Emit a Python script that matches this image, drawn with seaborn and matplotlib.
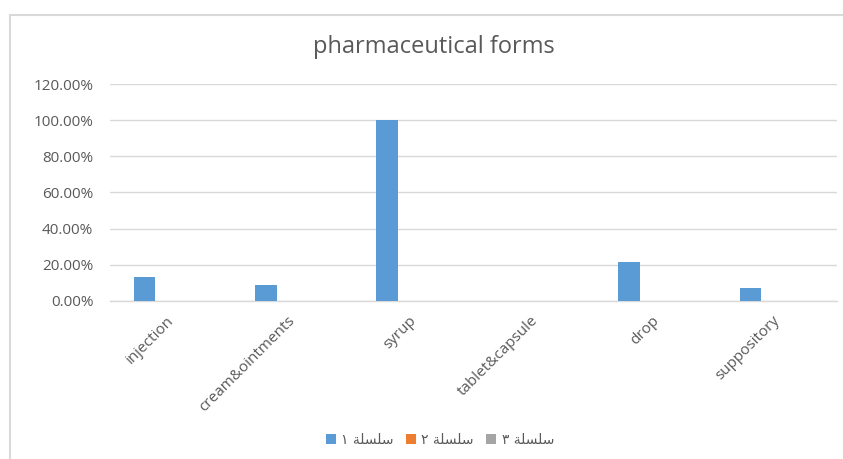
import matplotlib
matplotlib.use("Agg")
import matplotlib.pyplot as plt
import matplotlib.transforms as mtransforms
import seaborn as sns
import pandas as pd
from matplotlib.lines import Line2D
from matplotlib.ticker import FuncFormatter

categories = ["injection", "cream&ointments", "syrup", "tablet&capsule", "drop", "suppository"]
series1 = [0.132, 0.085, 1.00, 0.0, 0.215, 0.070]
series2 = [0, 0, 0, 0, 0, 0]
series3 = [0, 0, 0, 0, 0, 0]
# Arabic series names in visual (shaped) order: "سلسلة ١", "سلسلة ٢", "سلسلة ٣"
word = "\uFE94\uFEE0\uFEB4\uFEE0\uFEB3"
series_names = ["\u0661 " + word, "\u0662 " + word, "\u0663 " + word]
colors = ["#5B9BD5", "#ED7D31", "#A5A5A5"]
yticks = [0, 0.2, 0.4, 0.6, 0.8, 1.0, 1.2]

rows = []
for name, vals in zip(series_names, [series1, series2, series3]):
    for c, v in zip(categories, vals):
        rows.append({"category": c, "series": name, "value": v})
df = pd.DataFrame(rows)

sns.set_theme(style="white")
plt.rcParams["font.family"] = ["Open Sans", "DejaVu Sans"]
text_color = "#595959"
grid_color = "#D9D9D9"

fig = plt.figure(figsize=(8.43, 4.59), dpi=100)
ax = fig.add_axes([110 / 843, 1 - 300.7 / 459, (837 - 110) / 843, (300.7 - 84.3) / 459])

sns.barplot(data=df, x="category", y="value", hue="series", order=categories,
            hue_order=series_names, palette=colors, saturation=1, width=0.645, gap=0.17,
            linewidth=0, errorbar=None, ax=ax, zorder=3)

ax.set_ylim(0, 1.2)
ax.set_yticks(yticks)
ax.yaxis.set_major_formatter(FuncFormatter(lambda v, p: f"{v * 100:.2f}%"))
ax.set_xlim(-0.5, len(categories) - 0.5)
ax.grid(axis="y", color=grid_color, linewidth=1.0, zorder=0)
ax.set_axisbelow(True)
for s in ["top", "right", "left"]:
    ax.spines[s].set_visible(False)
ax.spines["bottom"].set_color(grid_color)
ax.spines["bottom"].set_linewidth(1.0)
ax.tick_params(axis="both", length=0, colors=text_color, labelsize=11)
ax.tick_params(axis="y", pad=12)
ax.tick_params(axis="x", pad=9)
ax.set_xlabel("")
ax.set_ylabel("")
shift = mtransforms.ScaledTranslation(-4 / 100, 0, fig.dpi_scale_trans)
for lbl in ax.get_xticklabels():
    lbl.set_rotation(45)
    lbl.set_ha("right")
    lbl.set_rotation_mode("anchor")
    lbl.set_transform(lbl.get_transform() + shift)

sns.move_legend(ax, "center", bbox_to_anchor=(440 / 843, 1 - 440 / 459),
                bbox_transform=fig.transFigure, ncol=3, frameon=False, title=None,
                fontsize=10, handlelength=0.7, handleheight=0.7, columnspacing=0.9,
                handletextpad=0.4)
leg = ax.get_legend()
for t in leg.get_texts():
    t.set_color(text_color)
    t.set_fontfamily(["DejaVu Sans"])

fig.text(434 / 843, 1 - 47 / 459, "pharmaceutical forms", ha="center", va="center",
         fontsize=17, color=text_color)

# chart frame (left and top edges)
fig.add_artist(Line2D([10 / 843, 10 / 843], [0, 1 - 15 / 459], transform=fig.transFigure,
                      color=grid_color, linewidth=1.5))
fig.add_artist(Line2D([10 / 843, 1], [1 - 15 / 459, 1 - 15 / 459], transform=fig.transFigure,
                      color=grid_color, linewidth=1.5))

fig.savefig("out.png", dpi=100)
